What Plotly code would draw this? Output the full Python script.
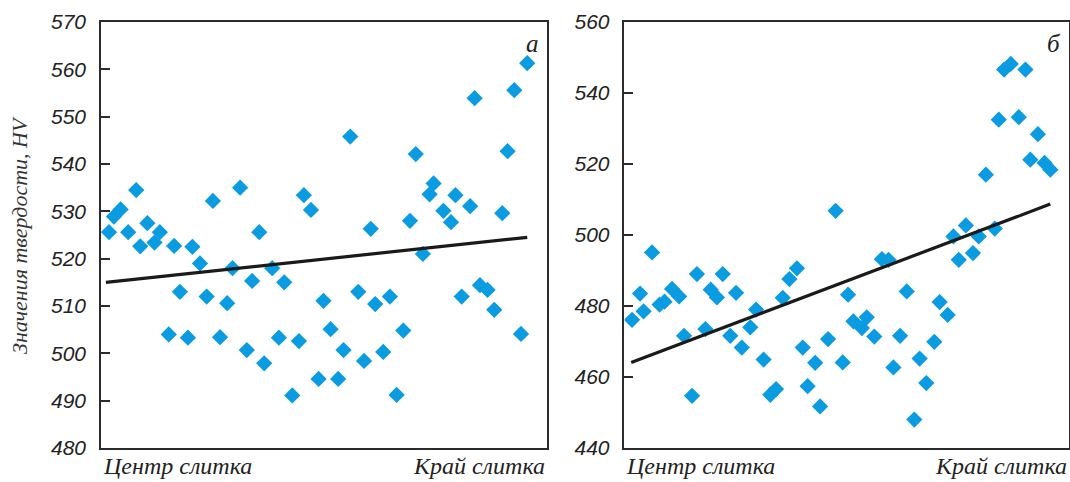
import plotly.graph_objects as go

# ---- Data ----
# x: relative position from ingot centre (0) to edge (100), %
pos_a = [1.8, 2.9, 4.4, 6.1, 7.9, 8.8, 10.4, 12.0, 13.2, 15.2, 16.4, 17.7, 19.5, 20.5, 22.2,
         23.7, 25.1, 26.7, 28.3, 29.5, 31.2, 32.7, 33.9, 35.5, 36.6, 38.4, 39.9, 41.1, 42.9,
         44.4, 45.5, 47.1, 48.8, 49.9, 51.5, 53.2, 54.4, 55.9, 57.7, 59.0, 60.5, 61.5, 63.3,
         64.8, 66.3, 67.8, 69.3, 70.6, 72.2, 73.7, 74.6, 76.8, 78.5, 79.5, 80.9, 82.8, 83.8,
         85.0, 86.7, 88.2, 90.0, 91.2, 92.7, 94.2, 95.6]
hv_a = [525.6, 528.9, 530.4, 525.6, 534.5, 522.6, 527.5, 523.4, 525.6, 504.0, 522.7, 513.0,
        503.3, 522.5, 519.0, 512.0, 532.2, 503.4, 510.6, 518.0, 535.0, 500.7, 515.3, 525.6,
        497.9, 518.0, 503.3, 515.0, 491.1, 502.6, 533.4, 530.3, 494.6, 511.1, 505.1, 494.6,
        500.7, 545.8, 513.0, 498.4, 526.3, 510.4, 500.3, 512.0, 491.2, 504.8, 528.0, 542.1,
        521.0, 533.6, 535.9, 530.1, 527.7, 533.4, 512.0, 531.1, 553.9, 514.4, 513.4, 509.2,
        529.6, 542.7, 555.6, 504.1, 561.3]
trend_pos_a = [1.1, 95.6]
trend_hv_a = [515.0, 524.5]

pos_b = [1.7, 3.5, 4.3, 6.2, 7.9, 9.0, 10.7, 12.3, 13.4, 15.2, 16.3, 18.2, 19.4, 20.8, 22.1,
         23.8, 25.1, 26.4, 28.3, 29.6, 31.3, 32.8, 34.1, 35.6, 37.1, 38.8, 40.1, 41.2, 42.9,
         44.0, 45.8, 47.5, 49.1, 50.3, 51.5, 53.4, 54.5, 56.2, 57.9, 59.4, 60.5, 62.0, 63.5,
         65.2, 66.4, 67.9, 69.7, 70.9, 72.7, 74.0, 75.2, 76.8, 78.4, 79.7, 81.3, 83.3, 84.2,
         85.4, 86.9, 88.7, 90.2, 91.3, 93.0, 94.5, 95.8]
hv_b = [476.1, 483.5, 478.5, 495.1, 480.4, 481.2, 484.8, 482.7, 471.6, 454.7, 489.0, 473.5,
        484.6, 482.4, 489.0, 471.6, 483.7, 468.3, 474.0, 479.0, 464.9, 455.0, 456.6, 482.3,
        487.6, 490.6, 468.3, 457.4, 464.0, 451.7, 470.7, 506.8, 464.1, 483.2, 475.7, 473.8,
        476.8, 471.4, 493.2, 493.0, 462.7, 471.6, 484.1, 448.0, 465.2, 458.3, 469.9, 481.1,
        477.5, 499.6, 493.0, 502.7, 494.9, 499.6, 517.0, 501.8, 532.5, 546.6, 548.2, 533.2,
        546.6, 521.2, 528.4, 520.3, 518.4]
trend_pos_b = [1.5, 95.8]
trend_hv_b = [464.1, 508.7]

y_ticks_a = [480, 490, 500, 510, 520, 530, 540, 550, 560, 570]
y_ticks_b = [440, 460, 480, 500, 520, 540, 560]
x_left_label = "Центр слитка"
x_right_label = "Край слитка"
y_title = "Значения твердости, HV"
panel_letters = ["а", "б"]

# ---- Styles ----
MARKER_COLOR = "#0a9be0"
AXIS_COLOR = "#2b2b2b"
SANS = "Liberation Sans, Arial, sans-serif"
SERIF = "Liberation Serif, Times New Roman, serif"

fig = go.Figure()
for xs, ys, tx, ty, xa, ya in [(pos_a, hv_a, trend_pos_a, trend_hv_a, "x", "y"),
                               (pos_b, hv_b, trend_pos_b, trend_hv_b, "x2", "y2")]:
    fig.add_trace(go.Scatter(x=xs, y=ys, mode="markers", xaxis=xa, yaxis=ya,
                             marker=dict(symbol="diamond", size=12.5, color=MARKER_COLOR,
                                         line=dict(width=0)),
                             showlegend=False, hoverinfo="x+y"))
    fig.add_trace(go.Scatter(x=tx, y=ty, mode="lines", xaxis=xa, yaxis=ya,
                             line=dict(color="#1a1a1a", width=3.2),
                             showlegend=False, hoverinfo="skip"))

axis_common = dict(showline=True, mirror=True, linecolor=AXIS_COLOR, linewidth=1.5,
                   showgrid=False, zeroline=False)
xcommon = dict(axis_common, range=[0, 100], showticklabels=False, ticks="")
ycommon = dict(axis_common, ticks="inside", ticklen=9, tickwidth=1.5, tickcolor=AXIS_COLOR,
               tickfont=dict(family=SANS, size=21, color="#222", style="italic"),
               ticklabelstandoff=9, automargin=False)

dom_a = [0, 0.4606]
dom_b = [0.5408, 1]
fig.update_layout(
    width=1070, height=482,
    margin=dict(l=101, r=1, t=22, b=34),
    paper_bgcolor="white", plot_bgcolor="white",
    xaxis=dict(xcommon, domain=dom_a, anchor="y"),
    yaxis=dict(ycommon, range=[480, 570], tickvals=y_ticks_a, anchor="x"),
    xaxis2=dict(xcommon, domain=dom_b, anchor="y2"),
    yaxis2=dict(ycommon, range=[440, 560], tickvals=y_ticks_b, anchor="x2"),
)

lab_font = dict(family=SERIF, size=24, color="#222", style="italic")
annotations = []
for dom, letter in [(dom_a, panel_letters[0]), (dom_b, panel_letters[1])]:
    annotations.append(dict(xref="paper", yref="paper", x=dom[0], y=0, yshift=-3,
                            xanchor="left", yanchor="top", text=x_left_label,
                            showarrow=False, font=lab_font))
    annotations.append(dict(xref="paper", yref="paper", x=dom[1], y=0, yshift=-3,
                            xanchor="right", yanchor="top", text=x_right_label,
                            showarrow=False, font=lab_font))
    annotations.append(dict(xref="paper", yref="paper", x=dom[1], y=1, xshift=-6, yshift=-6,
                            xanchor="right", yanchor="top", text=letter,
                            showarrow=False, font=dict(family=SERIF, size=25, color="#222",
                                                       style="italic")))
annotations.append(dict(xref="paper", yref="paper", x=0, y=0.5, xshift=-82,
                        xanchor="center", yanchor="middle", text=y_title, textangle=-90,
                        showarrow=False, font=dict(family=SERIF, size=22, color="#333",
                                                   style="italic")))
fig.update_layout(annotations=annotations)

fig.write_html("out.html", config={"displayModeBar": False},
               post_script="document.body.style.margin='0';document.body.style.padding='0';")
